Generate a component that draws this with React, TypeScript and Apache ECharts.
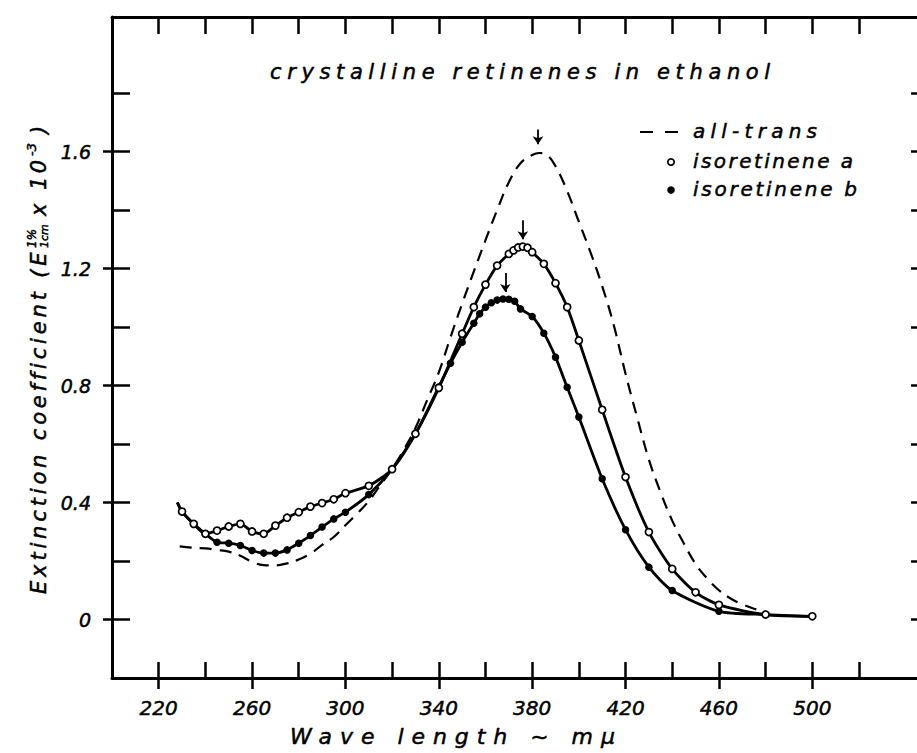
import React, { useEffect, useRef } from 'react';
import * as echarts from 'echarts';

// ---------------- data ----------------
const seriesNames = ['all-trans', 'isoretinene a', 'isoretinene b'];

const allTransWl = [229, 235, 240, 245, 250, 255, 260, 265, 270, 275, 280, 285, 290, 295, 300, 305, 310, 315, 320, 325, 330, 335, 340, 345, 350, 355, 360, 365, 370, 375, 380, 383, 386, 390, 395, 400, 405, 410, 415, 420, 425, 430, 435, 440, 445, 450, 455, 460, 465, 470, 475, 480];
const allTransVal = [0.25, 0.245, 0.243, 0.238, 0.232, 0.218, 0.197, 0.186, 0.185, 0.192, 0.205, 0.225, 0.255, 0.282, 0.322, 0.362, 0.405, 0.46, 0.515, 0.58, 0.655, 0.75, 0.845, 0.965, 1.08, 1.19, 1.297, 1.4, 1.495, 1.56, 1.588, 1.595, 1.59, 1.55, 1.465, 1.36, 1.255, 1.14, 1.005, 0.84, 0.69, 0.547, 0.435, 0.338, 0.26, 0.19, 0.14, 0.1, 0.072, 0.052, 0.037, 0.027];

const isoAWl = [228, 230, 235, 240, 245, 250, 255, 260, 265, 270, 275, 280, 285, 290, 295, 300, 310, 320, 330, 340, 350, 355, 360, 365, 370, 372, 374, 376, 378, 380, 385, 390, 395, 400, 410, 420, 430, 440, 450, 460, 480, 500];
const isoAVal = [0.4, 0.369, 0.327, 0.293, 0.304, 0.318, 0.327, 0.301, 0.293, 0.321, 0.348, 0.367, 0.386, 0.398, 0.411, 0.432, 0.457, 0.514, 0.635, 0.792, 0.977, 1.068, 1.145, 1.21, 1.25, 1.262, 1.272, 1.275, 1.271, 1.256, 1.216, 1.15, 1.068, 0.954, 0.717, 0.487, 0.299, 0.173, 0.093, 0.05, 0.017, 0.011];

const isoBWl = [228, 230, 235, 240, 245, 250, 255, 260, 265, 270, 275, 280, 285, 290, 295, 300, 310, 320, 330, 340, 345, 350, 355, 357.5, 360, 362.5, 365, 367.5, 370, 372.5, 375, 380, 385, 390, 395, 400, 410, 420, 430, 440, 460, 480, 500];
const isoBVal = [0.4, 0.369, 0.327, 0.293, 0.264, 0.261, 0.253, 0.236, 0.227, 0.227, 0.238, 0.261, 0.287, 0.316, 0.344, 0.367, 0.427, 0.514, 0.635, 0.795, 0.876, 0.948, 1.013, 1.045, 1.068, 1.083, 1.092, 1.096, 1.095, 1.088, 1.062, 1.036, 0.979, 0.897, 0.794, 0.692, 0.481, 0.307, 0.179, 0.099, 0.028, 0.017, 0.011];

// peak arrows (all-trans, isoretinene a, isoretinene b)
const peakArrowWl = [382.5, 376, 368.5];
const peakArrowTop = [1.675, 1.365, 1.185];
const peakArrowBottom = [1.625, 1.3, 1.12];

const xTickValues = [220, 240, 260, 280, 300, 320, 340, 360, 380, 400, 420, 440, 460, 480, 500, 520];
const xLabelValues = [220, 260, 300, 340, 380, 420, 460, 500];
const xTickLabels = ['220', '260', '300', '340', '380', '420', '460', '500'];
const yTickValues = [0, 0.2, 0.4, 0.6, 0.8, 1.0, 1.2, 1.4, 1.6, 1.8];
const yLabelValues = [0, 0.4, 0.8, 1.2, 1.6];
const yTickLabels = ['0', '0.4', '0.8', '1.2', '1.6'];

const titleText = 'crystalline retinenes in ethanol';
const xAxisTitle = 'Wave length ~ mμ';
const yAxisTitleParts = ['Extinction coefficient (E', '1%', '1cm', 'x 10', '-3', ')'];

// ---------------- helpers ----------------
const FONT = '"DejaVu Sans", "Noto Sans", sans-serif';
let measureCtx: CanvasRenderingContext2D | null = null;
function measure(s: string, size: number): number {
  if (!measureCtx) measureCtx = document.createElement('canvas').getContext('2d');
  if (!measureCtx) return s.length * size * 0.6;
  measureCtx.font = `italic ${size}px ${FONT}`;
  return measureCtx.measureText(s).width;
}

export default function App() {
  const ref = useRef<HTMLDivElement>(null);

  useEffect(() => {
    if (!ref.current) return;
    const el = ref.current;
    const chart = echarts.init(el, null, { renderer: 'svg', width: 917, height: 753 });
    const spacing = new Map<string, number>();

    const textStyle = (text: string, size: number) => ({
      text,
      font: `italic ${size}px ${FONT}`,
      fill: '#000',
      stroke: '#000',
      lineWidth: 0.5,
      textAlign: 'left',
      textVerticalAlign: 'middle',
    });

    const spaced = (text: string, x: number, y: number, size: number, width: number) => {
      const m = measure(text, size);
      const ls = text.length > 1 ? (width - m) / (text.length - 1) : 0;
      spacing.set(text, ls);
      return { type: 'text', x, y, silent: true, style: textStyle(text, size) };
    };
    const plain = (text: string, x: number, y: number, size: number) => ({
      type: 'text',
      x,
      y,
      silent: true,
      style: textStyle(text, size),
    });

    const pairs = (wl: number[], v: number[], hideFirst = false) =>
      wl.map((w, i) => (hideFirst && i === 0 ? { value: [w, v[i]], symbol: 'none' } : [w, v[i]]));

    const arrow = (i: number) => ({
      silent: true,
      symbol: ['none', 'arrow'],
      symbolSize: 8,
      label: { show: false },
      lineStyle: { type: 'solid', color: '#000', width: 1.8 },
      data: [[{ coord: [peakArrowWl[i], peakArrowTop[i]] }, { coord: [peakArrowWl[i], peakArrowBottom[i]] }]],
    });

    const yName = (v: number) => {
      const k = yLabelValues.findIndex((q) => Math.abs(q - v) < 1e-6);
      return k >= 0 ? yTickLabels[k] : '';
    };
    const xName = (v: number) => {
      const k = xLabelValues.indexOf(v);
      return k >= 0 ? xTickLabels[k] : '';
    };

    const frameLine = { show: true, onZero: false, lineStyle: { color: '#000', width: 3 } };
    const tickStyle = { color: '#000', width: 2.5 };
    const baseX = { type: 'value', min: 200, max: 550, interval: 20, splitLine: { show: false } };
    const baseY = { type: 'value', min: -0.2, max: 2.06, interval: 0.2, splitLine: { show: false } };
    const labelText = {
      fontStyle: 'italic',
      fontFamily: FONT,
      color: '#000',
      textBorderColor: '#000',
      textBorderWidth: 0.5,
    };

    // y-axis title group (rotated, reads bottom to top)
    const yTitle = {
      type: 'group',
      x: 39,
      y: 594,
      rotation: Math.PI / 2,
      silent: true,
      children: [
        spaced(yAxisTitleParts[0], 0, 0, 21, 342),
        plain(yAxisTitleParts[1], 346, -7, 12),
        plain(yAxisTitleParts[2], 346, 5, 11),
        spaced(yAxisTitleParts[3], 378, 0, 21, 56),
        plain(yAxisTitleParts[4], 438, -8, 13),
        plain(yAxisTitleParts[5], 460, 0, 21),
      ],
    };

    const option: any = {
      animation: false,
      backgroundColor: '#fff',
      grid: { left: 112, top: 17, width: 817, height: 661, containLabel: false, outerBoundsMode: 'none' },
      xAxis: [
        {
          ...baseX,
          position: 'bottom',
          axisLine: frameLine,
          axisTick: { show: true, inside: true, length: 16, lineStyle: tickStyle, customValues: xTickValues },
          axisLabel: { show: false },
        },
        {
          ...baseX,
          position: 'bottom',
          axisLine: { show: false, onZero: false },
          axisTick: { show: true, inside: false, length: 11, lineStyle: tickStyle, customValues: xLabelValues },
          axisLabel: {
            show: true,
            customValues: xLabelValues,
            formatter: xName,
            margin: 20,
            fontSize: 20,
            ...labelText,
          },
        },
        {
          ...baseX,
          position: 'top',
          axisLine: frameLine,
          axisTick: { show: true, inside: true, length: 17, lineStyle: tickStyle, customValues: xTickValues },
          axisLabel: { show: false },
        },
      ],
      yAxis: [
        {
          ...baseY,
          position: 'left',
          axisLine: frameLine,
          axisTick: { show: true, inside: true, length: 18, lineStyle: tickStyle, customValues: yTickValues },
          axisLabel: { show: false },
        },
        {
          ...baseY,
          position: 'left',
          axisLine: { show: false, onZero: false },
          axisTick: { show: true, inside: false, length: 9, lineStyle: tickStyle, customValues: yLabelValues },
          axisLabel: {
            show: true,
            customValues: yLabelValues,
            formatter: yName,
            margin: 21,
            fontSize: 19,
            ...labelText,
          },
        },
        {
          ...baseY,
          position: 'right',
          axisLine: frameLine,
          axisTick: { show: true, inside: true, length: 18, lineStyle: tickStyle, customValues: yTickValues },
          axisLabel: { show: false },
        },
      ],
      series: [
        {
          name: seriesNames[0],
          type: 'line',
          xAxisIndex: 0,
          yAxisIndex: 0,
          data: pairs(allTransWl, allTransVal),
          smooth: 0.4,
          symbol: 'none',
          lineStyle: { color: '#000', width: 2.2, type: [12, 8] },
          markLine: arrow(0),
          z: 2,
        },
        {
          name: seriesNames[2],
          type: 'line',
          xAxisIndex: 0,
          yAxisIndex: 0,
          data: pairs(isoBWl, isoBVal, true),
          smooth: 0.25,
          symbol: 'circle',
          symbolSize: 7.5,
          itemStyle: { color: '#000' },
          lineStyle: { color: '#000', width: 2.8 },
          markLine: arrow(2),
          z: 3,
        },
        {
          name: seriesNames[1],
          type: 'line',
          xAxisIndex: 0,
          yAxisIndex: 0,
          data: pairs(isoAWl, isoAVal, true),
          smooth: 0.25,
          symbol: 'circle',
          symbolSize: 7,
          itemStyle: { color: '#fff', borderColor: '#000', borderWidth: 1.7 },
          lineStyle: { color: '#000', width: 2.8 },
          markLine: arrow(1),
          z: 4,
        },
      ],
      graphic: [
        spaced(titleText, 270, 72, 21, 500),
        // legend
        {
          type: 'line',
          silent: true,
          shape: { x1: 640, y1: 132, x2: 681, y2: 132 },
          style: { stroke: '#000', lineWidth: 2.2, lineDash: [13, 12] },
        },
        spaced(seriesNames[0], 693, 131, 20, 124),
        {
          type: 'circle',
          silent: true,
          shape: { cx: 671, cy: 162, r: 3.2 },
          style: { fill: '#fff', stroke: '#000', lineWidth: 1.7 },
        },
        spaced(seriesNames[1], 693, 161, 20, 160),
        {
          type: 'circle',
          silent: true,
          shape: { cx: 671, cy: 190, r: 3.8 },
          style: { fill: '#000' },
        },
        spaced(seriesNames[2], 693, 189, 20, 164),
        // axis titles
        spaced(xAxisTitle, 290, 736, 22, 325),
        yTitle,
      ],
    };

    chart.setOption(option);

    const apply = () => {
      el.querySelectorAll('text').forEach((t) => {
        const s = t.textContent || '';
        if (spacing.has(s)) {
          const ls = spacing.get(s) as number;
          (t as SVGTextElement).style.letterSpacing = `${ls.toFixed(2)}px`;
          t.setAttribute('letter-spacing', ls.toFixed(2));
        }
      });
    };
    apply();
    chart.on('finished', apply);

    return () => {
      chart.dispose();
    };
  }, []);

  return <div ref={ref} style={{ position: 'absolute', left: 0, top: 0, width: 917, height: 753 }} />;
}
